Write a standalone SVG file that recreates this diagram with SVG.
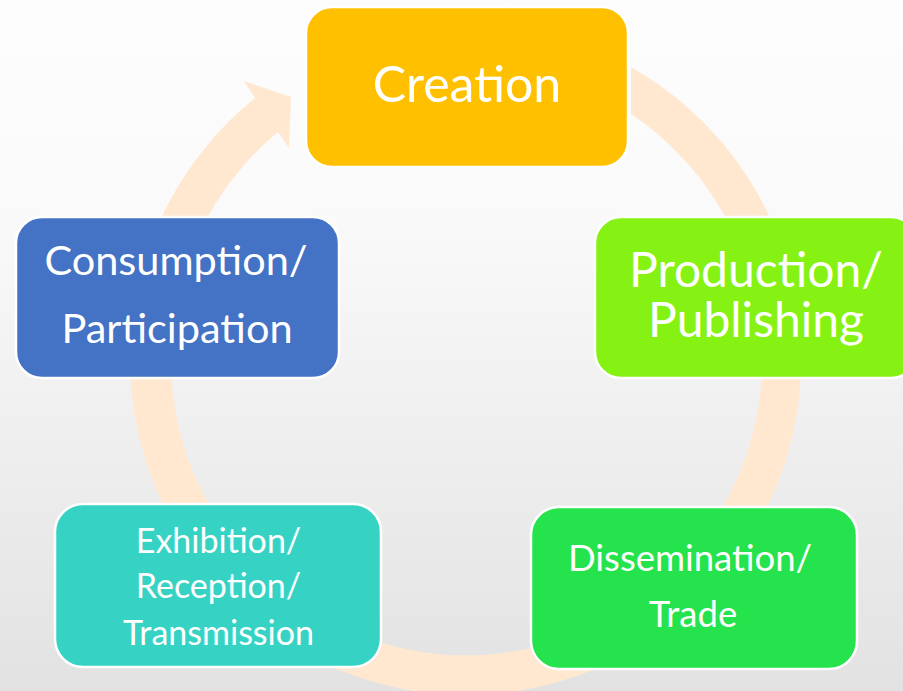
<svg xmlns="http://www.w3.org/2000/svg" width="903" height="691" viewBox="0 0 903 691">
  <defs>
    <linearGradient id="bg" x1="0" y1="0" x2="0" y2="1">
      <stop offset="0" stop-color="#fdfdfd"/>
      <stop offset="0.3" stop-color="#fafafa"/>
      <stop offset="1" stop-color="#e2e2e2"/>
    </linearGradient>
    <style>
      .box { stroke: #ffffff; stroke-width: 2.5; }
      .lbl { font-family: Lato, "Open Sans", "Liberation Sans", sans-serif; fill: #ffffff; text-anchor: middle; }
    </style>
  </defs>

  <!-- background -->
  <rect x="0" y="0" width="903" height="691" fill="url(#bg)"/>

  <!-- cycle arrow -->
  <g id="connectors">
    <path fill="#ffe8cf"
          d="M 631 67.2 A 335.6 335.6 0 1 1 255 98 L 244 81 L 291 97 L 289 148 L 278 132 A 295.6 295.6 0 1 0 631 114.1 Z"/>
  </g>

  <g id="creation">
    <rect class="box" x="306" y="7" width="322" height="160" rx="26" fill="#ffc000"/>
    <text class="lbl" x="467" y="102" font-size="50">Creation</text>
  </g>

  <g id="production">
    <rect class="box" x="595" y="217" width="322" height="161" rx="26" fill="#85f213"/>
    <text class="lbl" x="756" y="287" font-size="48">Production/</text>
    <text class="lbl" x="756" y="337" font-size="48">Publishing</text>
  </g>

  <g id="consumption">
    <rect class="box" x="16" y="217" width="323" height="161" rx="26" fill="#4472c4"/>
    <text class="lbl" x="176" y="275" font-size="41.5">Consumption/</text>
    <text class="lbl" x="177" y="343" font-size="41.5">Participation</text>
  </g>

  <g id="exhibition">
    <rect class="box" x="55" y="504" width="326" height="163" rx="28" fill="#36d3c5"/>
    <text class="lbl" x="218.5" y="553" font-size="34">Exhibition/</text>
    <text class="lbl" x="218.5" y="598" font-size="34">Reception/</text>
    <text class="lbl" x="218.5" y="645" font-size="34">Transmission</text>
  </g>

  <g id="dissemination">
    <rect class="box" x="531" y="507" width="326" height="162" rx="28" fill="#24e34c"/>
    <text class="lbl" x="690" y="571" font-size="36.5">Dissemination/</text>
    <text class="lbl" x="693" y="627" font-size="36.5">Trade</text>
  </g>
</svg>
